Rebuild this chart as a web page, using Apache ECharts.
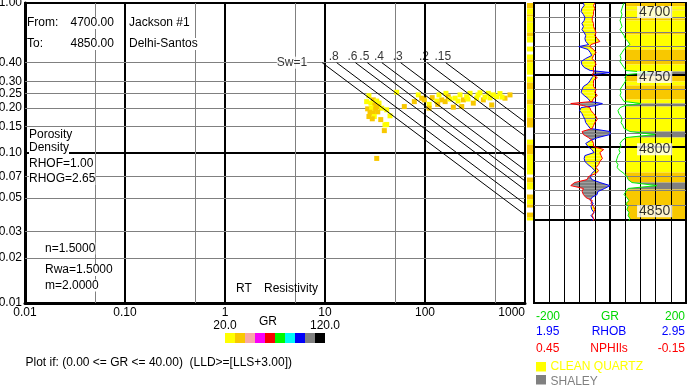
<!DOCTYPE html>
<html><head><meta charset="utf-8">
<script src="https://cdn.jsdelivr.net/npm/echarts@6/dist/echarts.min.js"></script>
<style>html,body{margin:0;padding:0;background:#fff}#c{width:687px;height:387px}</style>
</head><body><div id="c"></div>
<script>
// ================= DATA =================
// Pickett plot axes
const xTickValues = [0.01, 0.1, 1, 10, 100, 1000];
const xTickLabels = ['0.01', '0.10', '1', '10', '100', '1000'];
const yTickValues = [1, 0.4, 0.3, 0.25, 0.2, 0.15, 0.1, 0.07, 0.05, 0.03, 0.02, 0.01];
const yTickLabels = ['1.00', '0.40', '0.30', '0.25', '0.20', '0.15', '0.10', '0.07', '0.05', '0.03', '0.02', '0.01'];
const yGreyLines = [0.4, 0.3, 0.25, 0.2, 0.15, 0.07, 0.05, 0.03, 0.02];
const xGreyLines = [0.05, 0.5, 5, 50, 500];

// Pickett points: RT resistivity, porosity, GR
const pointRt = [27.5,30.4,26.1,28.8,32.9,31.6,34.7,26.7,29.3,32.1,34.1,36.9,41.4,28.2,30.4,33.7,27.5,31.1,44.7,29.7,36.1,39.8,41.4,39.2,32.9,
  52.1,62.1,78.2,85.7,92.7,98.4,110,110,118,131,134,147,162,159,171,192,200,224,242,261,282,304,329,355,383,430,465,482,521,631,708,562,398,214,178,138,233,269,339,447,589];
const pointPhi = [0.241,0.226,0.220,0.215,0.222,0.209,0.215,0.197,0.199,0.197,0.204,0.199,0.194,0.187,0.184,0.188,0.175,0.175,0.177,0.169,0.167,0.154,0.155,0.141,0.092,
  0.254,0.204,0.220,0.244,0.232,0.226,0.211,0.199,0.234,0.222,0.211,0.226,0.250,0.220,0.237,0.202,0.232,0.244,0.226,0.237,0.250,0.215,0.232,0.252,0.226,0.250,0.209,0.244,0.237,0.232,0.244,0.249,0.236,0.222,0.229,0.244,0.204,0.229,0.244,0.233,0.236];
const pointGR = [26,34,25,27,28,35,26,33,27,36,34,28,26,35,37,33,34,27,25,36,34,27,26,35,38,
  26,34,36,25,33,35,27,34,36,26,33,35,25,34,37,33,27,26,34,25,27,36,26,25,34,26,35,27,26,33,34,25,26,27,25,26,35,27,26,25,27];

// Water saturation lines
const swValues = [1, 0.8, 0.6, 0.5, 0.4, 0.3, 0.2, 0.15];
const swLabels = ['Sw=1', '.8', '.6', '.5', '.4', '.3', '.2', '.15'];
const archieN = 1.5, archieM = 2.0, rwa = 1.5;
const swTopPhi = 0.4, rtMax = 1000;

// GR colour scale
const grScaleColors = ['#ffff00','#f8c800','#f8a8a8','#f800f8','#f80000','#00f800','#00f8f8','#0000f8','#808080','#000000'];
const grScaleMin = 20, grScaleMax = 120;

// Log tracks
const logDepth = [4700,4701.7,4703.8,4705.9,4708.0,4710.1,4712.1,4714.2,4716.3,4718.4,4720.5,4722.5,4724.6,4726.7,4728.8,4730.2,4732.2,4734.3,4736.4,4738.5,
  4740.6,4742.7,4744.7,4746.8,4748.2,4749.6,4751.7,4753.7,4755.8,4757.9,4760.0,4762.1,4764.1,4766.2,4768.3,4769.7,4771.1,4772.5,4774.6,4776.6,
  4778.7,4780.8,4782.9,4785.0,4787.0,4789.1,4791.2,4793.3,4795.4,4797.4,4799.5,4801.6,4803.7,4805.8,4807.8,4809.9,4812.0,4814.1,4816.2,4818.2,
  4820.3,4822.4,4824.5,4826.6,4828.6,4830.7,4832.8,4834.9,4837.0,4839.0,4841.1,4843.2,4845.3,4847.4,4849.4,4850.8];
const rhob = [2.60,2.61,2.58,2.57,2.60,2.62,2.61,2.58,2.60,2.58,2.61,2.63,2.62,2.63,2.67,2.54,2.66,2.69,2.71,2.63,
  2.57,2.58,2.61,2.69,2.95,2.75,2.71,2.69,2.66,2.60,2.58,2.57,2.61,2.66,2.69,2.85,2.77,2.57,2.55,2.58,
  2.60,2.62,2.63,2.66,2.69,2.95,2.95,2.79,2.69,2.63,2.66,2.71,2.74,2.62,2.61,2.62,2.66,2.71,2.75,2.71,
  2.69,2.71,2.82,2.95,2.88,2.79,2.78,2.71,2.69,2.73,2.70,2.71,2.74,2.70,2.73,2.71];
const nphi = [-0.03,-0.02,-0.03,-0.02,-0.02,-0.01,-0.01,-0.02,-0.02,-0.03,-0.04,-0.03,-0.05,-0.07,0.00,0.01,-0.02,-0.04,-0.02,-0.01,
  -0.03,-0.04,-0.02,-0.02,-0.02,-0.01,-0.05,-0.02,-0.02,-0.02,-0.04,-0.03,-0.05,-0.02,-0.01,0.16,0.06,0.01,0.00,-0.02,
  -0.04,-0.05,-0.03,-0.02,-0.01,0.07,0.06,0.02,-0.01,-0.02,-0.02,-0.10,-0.07,-0.08,-0.09,-0.07,-0.06,-0.04,-0.06,-0.04,
  0.02,0.03,0.13,0.16,0.06,0.07,0.06,0.04,-0.01,0.00,-0.02,-0.03,-0.02,-0.01,-0.02,-0.02];
const gr = [-126,-132,-137,-142,-137,-142,-147,-142,-137,-147,-137,-126,-121,-105,-95,-111,-126,-137,-147,-142,
  -147,-137,-126,-116,11,-111,-121,-116,-126,-137,-147,-142,-147,-137,-126,-37,-121,-147,-158,-153,
  -142,-137,-142,-132,-126,-95,37,-116,-137,-147,-142,-153,-147,-158,-163,-168,-158,-163,-147,-126,
  -111,-105,-84,47,-105,-116,-126,-111,-100,-116,-105,-111,-100,-105,-95,-100];

// Lithology bands (top depth, bottom depth, class)  Y = clean quartz, G = quartz (higher GR), S = shaley
const fillBands = [[4700,4702.4,'G'],[4702.4,4704.5,'Y'],[4704.5,4705.2,'G'],[4705.2,4710.7,'Y'],[4710.7,4712.1,'G'],
  [4712.1,4720.5,'Y'],[4720.5,4721.8,'G'],[4721.8,4732.2,'Y'],[4732.2,4742.6,'G'],[4742.6,4747.5,'Y'],[4747.5,4749.7,'S'],
  [4749.7,4754.4,'G'],[4754.4,4757.2,'Y'],[4757.2,4766.9,'G'],[4766.9,4769.7,'Y'],[4769.7,4771.8,'S'],[4771.8,4789.1,'Y'],
  [4789.1,4793.3,'S'],[4793.3,4817.5,'Y'],[4817.5,4824.5,'G'],[4824.5,4829.3,'S'],[4829.3,4850.8,'G']];
const lithBands = [[4700,4703.8,'G'],[4703.8,4708,'Y'],[4708,4709.4,'G'],[4709.4,4712.8,'Y'],[4712.8,4713.5,'G'],[4713.5,4720.5,'Y'],
  [4720.5,4723.2,'G'],[4723.2,4727.4,'Y'],[4730.2,4733.6,'Y'],[4735.7,4739.2,'Y'],[4739.2,4741.3,'G'],[4741.3,4749.7,'Y'],
  [4751,4755.1,'Y'],[4755.1,4760,'G'],[4760,4766.9,'Y'],[4766.9,4770.4,'G'],[4770.4,4779.4,'Y'],[4779.4,4786.3,'G'],
  [4794.7,4798.1,'Y'],[4798.1,4805.1,'G'],[4805.1,4818.9,'Y'],[4821,4824.5,'G'],[4824.5,4829.3,'Y'],[4832.8,4836.3,'G'],
  [4836.3,4839.7,'Y'],[4839.7,4841.8,'G'],[4845.3,4848.8,'G'],[4848.8,4850.8,'Y']];

const depthGridLines = [4710,4720,4730,4740,4750,4760,4770,4780,4790,4800,4810,4820,4830,4840,4850];
const depthMajor = [4750, 4800, 4850];
const depthLabels = [4700, 4750, 4800, 4850];
const track1GridX = [2.15, 2.35, 2.55, 2.75];
const track2GridX = [-120, -40, 40, 120];
const rhobMin = 1.95, rhobMax = 2.95, nphiLeft = 0.45, nphiRight = -0.15, grMin = -200, grMax = 200;
const grFillBase = -118;
const depthTop = 4700, depthBottom = 4908;

// ================= CHART =================
const FONT = '"Liberation Sans", Arial, sans-serif';
const bandColor = {Y: '#ffff00', G: '#f8c800', S: '#808080'};
const chart = echarts.init(document.getElementById('c'));

function grColor(v) {
  const step = (grScaleMax - grScaleMin) / grScaleColors.length;
  let i = Math.floor((v - grScaleMin) / step);
  i = Math.max(0, Math.min(grScaleColors.length - 1, i));
  return grScaleColors[i];
}
const swLines = swValues.map(sw => {
  const rtStart = rwa / (Math.pow(swTopPhi, archieM) * Math.pow(sw, archieN));
  const phiEnd = Math.pow(rwa / (rtMax * Math.pow(sw, archieN)), 1 / archieM);
  return [[rtStart, swTopPhi], [rtMax, phiEnd]];
});
const nphiAsRhob = v => rhobMin + (nphiLeft - v) / (nphiLeft - nphiRight) * (rhobMax - rhobMin);
function fillLeftAt(d) {
  for (let i = 0; i < logDepth.length - 1; i++) {
    if (d >= logDepth[i] && d <= logDepth[i + 1]) {
      const t = (d - logDepth[i]) / (logDepth[i + 1] - logDepth[i]);
      const a = Math.max(gr[i], grFillBase), b = Math.max(gr[i + 1], grFillBase);
      return a + t * (b - a);
    }
  }
  return grFillBase;
}
const gridLineLabel = {show: false};
const hLine = (v, major) => ({yAxis: v, lineStyle: {color: major ? '#000' : '#808080', width: major ? 2 : 1, type: 'solid'}, label: gridLineLabel});
const vLine = (v, w) => ({xAxis: v, lineStyle: {color: '#000', width: w || 1, type: 'solid'}, label: gridLineLabel});
const textStyleBase = {fontFamily: FONT, fontSize: 12, color: '#000'};

const series = [];
// Pickett grid lines + y labels
series.push({
  type: 'line', xAxisIndex: 0, yAxisIndex: 0, data: [], z: 1, silent: true,
  markLine: {
    z: 1, silent: true, symbol: 'none', animation: false,
    data: [
      ...yTickValues.map((v, i) => {
        const grey = yGreyLines.includes(v);
        return {yAxis: v, lineStyle: {color: grey ? '#808080' : '#000', width: grey ? 1 : 2, type: 'solid'},
          label: Object.assign({show: true, position: 'start', distance: 3, formatter: yTickLabels[i]}, textStyleBase)};
      }),
      ...xGreyLines.map(v => ({xAxis: v, lineStyle: {color: '#808080', width: 1, type: 'solid'}, label: gridLineLabel}))
    ]
  }
});
series.push({
  type: 'scatter', xAxisIndex: 0, yAxisIndex: 0, z: 2, silent: true, symbol: 'rect', symbolSize: 5,
  data: pointRt.map((r, i) => [r, pointPhi[i], pointGR[i]]),
  itemStyle: {color: p => grColor(p.value[2]), opacity: 1}
});
swLines.forEach(d => series.push({
  type: 'line', xAxisIndex: 0, yAxisIndex: 0, data: d, symbol: 'none', silent: true, z: 3,
  lineStyle: {color: '#000', width: 1}
}));
series.push({
  type: 'scatter', xAxisIndex: 0, yAxisIndex: 0, symbolSize: 0, silent: true, z: 4,
  data: swLines.map((d, i) => ({
    value: d[0],
    label: i === 0 ? {position: 'left', distance: 15, backgroundColor: '#fff'} : {position: 'top', distance: 0, offset: [-3, 0]}
  })),
  label: Object.assign({show: true, formatter: p => swLabels[p.dataIndex]}, textStyleBase)
});
// Lithology strip
series.push({
  type: 'custom', xAxisIndex: 1, yAxisIndex: 1, silent: true, z: 1,
  data: lithBands.map(b => [0, b[0], b[1]]),
  renderItem: (params, api) => {
    const b = lithBands[params.dataIndex];
    const p0 = api.coord([0, b[0]]), p1 = api.coord([1, b[1]]);
    return {type: 'rect', shape: {x: p0[0], y: p0[1], width: p1[0] - p0[0], height: p1[1] - p0[1]}, style: {fill: bandColor[b[2]]}};
  }
});
// Track 1 crossover fill
series.push({
  type: 'custom', xAxisIndex: 2, yAxisIndex: 2, silent: true, z: 1,
  data: logDepth.slice(0, -1).map((d, i) => [rhob[i], d]),
  renderItem: (params, api) => {
    const i = params.dataIndex;
    const b0 = rhob[i], b1 = rhob[i + 1], n0 = nphiAsRhob(nphi[i]), n1 = nphiAsRhob(nphi[i + 1]);
    const d0 = logDepth[i], d1 = logDepth[i + 1];
    const s0 = n0 - b0, s1 = n1 - b1;
    const poly = (pts, pos) => ({type: 'polygon', shape: {points: pts.map(p => api.coord(p))}, style: {fill: pos ? '#ffff00' : '#808080'}});
    const children = [];
    if (s0 * s1 >= 0) {
      children.push(poly([[b0, d0], [n0, d0], [n1, d1], [b1, d1]], (s0 + s1) > 0));
    } else {
      const t = s0 / (s0 - s1), dc = d0 + t * (d1 - d0), xc = b0 + t * (b1 - b0);
      children.push(poly([[b0, d0], [n0, d0], [xc, dc]], s0 > 0));
      children.push(poly([[xc, dc], [n1, d1], [b1, d1]], s1 > 0));
    }
    return {type: 'group', children};
  }
});
series.push({
  type: 'line', xAxisIndex: 2, yAxisIndex: 2, data: [], z: 2, silent: true,
  markLine: {z: 2, silent: true, symbol: 'none', animation: false,
    data: [...track1GridX.map(v => vLine(v)), ...depthGridLines.map(v => hLine(v, depthMajor.includes(v)))]}
});
series.push({type: 'line', xAxisIndex: 2, yAxisIndex: 2, z: 3, silent: true, symbol: 'none',
  data: rhob.map((v, i) => [v, logDepth[i]]), lineStyle: {color: '#0000ff', width: 1}});
series.push({type: 'line', xAxisIndex: 3, yAxisIndex: 2, z: 3, silent: true, symbol: 'none',
  data: nphi.map((v, i) => [v, logDepth[i]]), lineStyle: {color: '#ff0000', width: 1}});
// Track 2 GR fill
series.push({
  type: 'custom', xAxisIndex: 4, yAxisIndex: 3, silent: true, z: 1,
  data: fillBands.map(b => [0, b[0], b[1]]),
  renderItem: (params, api) => {
    const b = fillBands[params.dataIndex];
    const pts = [[fillLeftAt(b[0]), b[0]]];
    logDepth.forEach((d, i) => { if (d > b[0] && d < b[1]) pts.push([Math.max(gr[i], grFillBase), d]); });
    pts.push([fillLeftAt(b[1]), b[1]], [grMax, b[1]], [grMax, b[0]]);
    return {type: 'polygon', shape: {points: pts.map(p => api.coord(p))}, style: {fill: bandColor[b[2]]}};
  }
});
series.push({
  type: 'line', xAxisIndex: 4, yAxisIndex: 3, data: [], z: 2, silent: true,
  markLine: {z: 2, silent: true, symbol: 'none', animation: false,
    data: [...track2GridX.map(v => vLine(v)), vLine(grMax, 2), ...depthGridLines.map(v => hLine(v, depthMajor.includes(v)))]}
});
series.push({type: 'line', xAxisIndex: 4, yAxisIndex: 3, z: 3, silent: true, symbol: 'none',
  data: gr.map((v, i) => [v, logDepth[i]]), lineStyle: {color: '#00f000', width: 1}});
const depthLabelOffsets = [9, 2, 2, -8];
series.push({
  type: 'scatter', xAxisIndex: 4, yAxisIndex: 3, symbolSize: 0, z: 5, silent: true,
  data: depthLabels.map((d, i) => ({value: [35, d], label: {offset: [0, depthLabelOffsets[i]]}})),
  label: {show: true, position: 'inside', formatter: p => String(depthLabels[p.dataIndex]), fontFamily: FONT, fontSize: 14,
    color: '#000', backgroundColor: '#fff', padding: [0, 2], lineHeight: 12}
});

// Static annotations
const T = (text, x, y, extra) => ({type: 'text', z: 10, silent: true,
  style: Object.assign({text, x, y, font: '12px ' + FONT, fill: '#000', align: 'left', verticalAlign: 'middle'}, extra || {})});
const W = {backgroundColor: '#fff'};
const elements = [
  T('From:', 27, 23, W), T('4700.00', 70.5, 23, W), T('Jackson #1', 129, 23, W),
  T('To:', 27, 44, W), T('4850.00', 70.5, 44, W), T('Delhi-Santos', 129, 44, W),
  T('Porosity', 29, 135, W), T('Density', 29, 148, W), T('RHOF=1.00', 29, 163.5, W), T('RHOG=2.65', 29, 179, W),
  T('n=1.5000', 45, 248.5, W), T('Rwa=1.5000', 45, 270, W), T('m=2.0000', 45, 285.5, W),
  T('RT', 236, 288.5), T('Resistivity', 264, 288.5),
  T('20.0', 225, 326, {align: 'center'}), T('GR', 268, 321.5, {align: 'center'}), T('120.0', 325, 326, {align: 'center'}),
  T('Plot if: (0.00 <= GR <= 40.00)  (LLD>=[LLS+3.00])', 25.5, 362.5),
  T('-200', 536, 316.7, {fill: '#00d800'}), T('GR', 610, 316.7, {fill: '#00d800', align: 'center'}), T('200', 685, 316.7, {fill: '#00d800', align: 'right'}),
  T('1.95', 536, 331.7, {fill: '#0000ff'}), T('RHOB', 609, 331.7, {fill: '#0000ff', align: 'center'}), T('2.95', 685, 331.7, {fill: '#0000ff', align: 'right'}),
  T('0.45', 536, 348.3, {fill: '#ff0000'}), T('NPHIls', 609, 348.3, {fill: '#ff0000', align: 'center'}), T('-0.15', 685, 348.3, {fill: '#ff0000', align: 'right'}),
  {type: 'rect', silent: true, shape: {x: 536, y: 362, width: 10, height: 9.5}, style: {fill: bandColor.Y}},
  T('CLEAN QUARTZ', 550.5, 366.5, {fill: '#ffff00'}),
  {type: 'rect', silent: true, shape: {x: 536, y: 375, width: 10, height: 9.5}, style: {fill: bandColor.S}},
  T('SHALEY', 550.5, 382, {fill: '#808080'})
];
grScaleColors.forEach((c, i) => elements.push({type: 'rect', silent: true, shape: {x: 225 + i * 10, y: 333, width: 10, height: 10}, style: {fill: c}}));

const hiddenVal = (gi, min, max, inverse) => ({type: 'value', gridIndex: gi, min, max, inverse: !!inverse, show: false,
  splitLine: {show: false}, axisLine: {show: false}, axisTick: {show: false}, axisLabel: {show: false}});

chart.setOption({
  animation: false,
  backgroundColor: '#fff',
  grid: [
    {left: 25, top: 3, width: 500, height: 300, show: true, borderColor: '#000', borderWidth: 2},
    {left: 527, top: 3, width: 6, height: 300},
    {left: 534, top: 3, width: 76, height: 300, show: true, borderColor: '#000', borderWidth: 2},
    {left: 610, top: 3, width: 76, height: 300, show: true, borderColor: '#000', borderWidth: 2}
  ],
  xAxis: [
    {type: 'log', logBase: 10, gridIndex: 0, min: 0.01, max: 1000, splitNumber: 5,
      axisLine: {show: true, onZero: false, lineStyle: {color: '#000', width: 3}}, axisTick: {show: false},
      axisLabel: Object.assign({margin: 4, alignMaxLabel: 'right', formatter: v => {
        let best = 0; xTickValues.forEach((t, i) => { if (Math.abs(Math.log10(t) - Math.log10(v)) < Math.abs(Math.log10(xTickValues[best]) - Math.log10(v))) best = i; });
        return xTickLabels[best]; }}, textStyleBase),
      splitLine: {show: true, lineStyle: {color: '#000', width: 2}}},
    hiddenVal(1, 0, 1),
    hiddenVal(2, rhobMin, rhobMax),
    hiddenVal(2, nphiRight, nphiLeft, true),
    hiddenVal(3, grMin, grMax)
  ],
  yAxis: [
    {type: 'log', logBase: 10, gridIndex: 0, min: 0.01, max: 1, splitNumber: 2,
      axisLine: {show: true, onZero: false, lineStyle: {color: '#000', width: 3}}, axisTick: {show: false}, axisLabel: {show: false},
      splitLine: {show: true, lineStyle: {color: '#000', width: 2}}},
    hiddenVal(1, depthTop, depthBottom, true),
    hiddenVal(2, depthTop, depthBottom, true),
    hiddenVal(3, depthTop, depthBottom, true)
  ],
  series,
  graphic: {elements}
});
</script>
</body></html>
